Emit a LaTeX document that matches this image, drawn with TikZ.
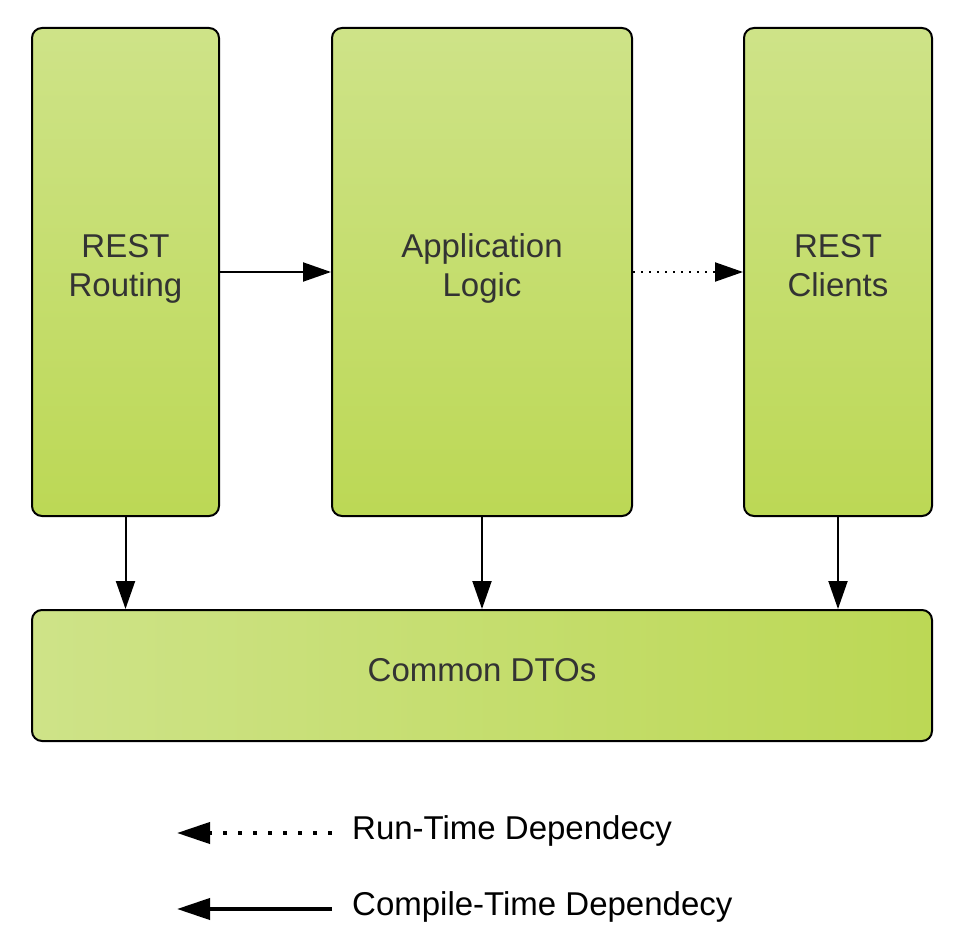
\documentclass[tikz,border=0pt]{standalone}
\usepackage{fontspec}
\setmainfont{Liberation Sans}
\usetikzlibrary{arrows.meta}
\definecolor{gtop}{HTML}{CEE388}
\definecolor{gbot}{HTML}{BCD855}
\definecolor{txt}{HTML}{333333}
\tikzset{
  box/.style={draw=black, line width=2pt, rounded corners=10pt, top color=gtop, bottom color=gbot,
    text=txt, align=center, font=\fontsize{33}{39.5}\selectfont, inner sep=0pt,
    text height=58pt, text depth=8pt},
  hbox/.style={box, left color=gtop, right color=gbot, text height=22pt, text depth=10pt},
  dep/.style={line width=2pt, -{Triangle[length=28pt,width=19pt]}},
  rdep/.style={dep, dash pattern=on 2pt off 6pt},
  legsolid/.style={line width=4pt, -{Triangle[length=33pt,width=21pt]}},
  legdot/.style={legsolid, dash pattern=on 4pt off 11pt},
  legtext/.style={anchor=base west, font=\fontsize{33}{40}\selectfont, text=black, inner sep=0pt}
}
\begin{document}
\begin{tikzpicture}[x=1pt,y=-1pt]
\useasboundingbox (0,0) rectangle (962,936);
\node[box, minimum width=187pt, minimum height=488pt] (rr) at (125.5,272) {REST\\Routing};
\node[box, minimum width=300pt, minimum height=488pt] (al) at (482,272) {Application\\Logic};
\node[box, minimum width=188pt, minimum height=488pt] (rc) at (838,272) {REST\\Clients};
\node[hbox, minimum width=900pt, minimum height=131pt] (dto) at (482,675.5) {Common DTOs};
\draw[dep] (rr) -- (al);
\draw[rdep] (al) -- (rc);
\draw[dep] (rr.south) -- (rr.south |- dto.north);
\draw[dep] (al.south) -- (al.south |- dto.north);
\draw[dep] (rc.south) -- (rc.south |- dto.north);
\coordinate (l1s) at (332,833);
\coordinate (l1e) at (177,833);
\coordinate (l2s) at (332,909);
\coordinate (l2e) at (177,909);
\draw[legdot] (l1s) -- (l1e);
\draw[legsolid] (l2s) -- (l2e);
\node[legtext] (t1) at (352,839) {Run-Time Dependecy};
\node[legtext] (t2) at (352,915) {Compile-Time Dependecy};
\end{tikzpicture}
\end{document}
